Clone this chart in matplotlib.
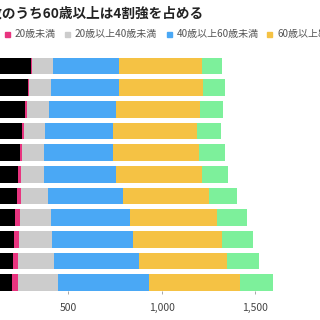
import numpy as np
import matplotlib
matplotlib.use("Agg")
import matplotlib.pyplot as plt
from matplotlib.patches import Rectangle

plt.rcParams['font.family'] = ['Noto Sans CJK JP', 'DejaVu Sans']

# rows, top to bottom (their labels are outside the visible area)
categories = ["2010", "2011", "2012", "2013", "2014", "2015",
              "2016", "2017", "2018", "2019", "2020"]

# stacked segments per row
dark = [302, 286, 272, 254, 245, 235, 226, 217, 212, 205, 199]
under20 = [5, 8, 9, 11, 11, 14, 21, 25, 28, 30, 34]
age20_40 = [114, 116, 116, 112, 116, 124, 147, 167, 173, 191, 212]
age40_60 = [349, 360, 359, 361, 370, 381, 397, 422, 436, 452, 486]
age60_80 = [443, 452, 448, 448, 459, 461, 462, 466, 472, 473, 487]
over80 = [107, 116, 124, 130, 136, 140, 150, 157, 166, 171, 178]

series = [dark, under20, age20_40, age40_60, age60_80, over80]
names = ["", "20歳未満", "20歳以上40歳未満", "40歳以上60歳未満", "60歳以上80歳未満", "80歳以上"]
colors = ["#000000", "#e8347f", "#cccccc", "#4aa8f5", "#f5c244", "#7df09b"]

xticks = [500, 1000, 1500]
xticklabels = ["500", "1,000", "1,500"]

fig = plt.figure(figsize=(3.2, 3.2), dpi=100)
ax = fig.add_axes([0, 0.0891, 1, 0.7384])

y = np.arange(len(categories))
left = np.zeros(len(categories))
for vals, c in zip(series, colors):
    ax.barh(y, vals, left=left, height=0.78, color=c, edgecolor='none')
    left += np.array(vals)

ax.set_xlim(137, 1845)
ax.set_ylim(10.41, -0.5)
ax.set_yticks(y, categories)
ax.tick_params(axis='y', length=0, labelleft=False)
ax.set_xticks(xticks, xticklabels)
ax.tick_params(axis='x', length=2.5, width=0.6, color='#999999', pad=6,
               labelsize=7.5, labelcolor='#444444')
for s in ax.spines.values():
    s.set_visible(False)

# title (its start runs off the canvas)
fig.text(204 / 320, 1 - 14 / 320, "死者数のうち60歳以上は4割強を占める",
         ha='right', va='center', fontsize=9.8, fontweight='bold', color='#222222')

# legend row
leg_x = [5, 65, 167, 267, 400]
for xi, name, c in zip(leg_x, names[1:], colors[1:]):
    fig.patches.append(Rectangle((xi / 320, 1 - 36.5 / 320), 5 / 320, 5 / 320,
                                 transform=fig.transFigure, color=c))
    fig.text((xi + 10) / 320, 1 - 34 / 320, name, ha='left', va='center',
             fontsize=7.2, color='#555555')

fig.savefig("out.png", dpi=100)
